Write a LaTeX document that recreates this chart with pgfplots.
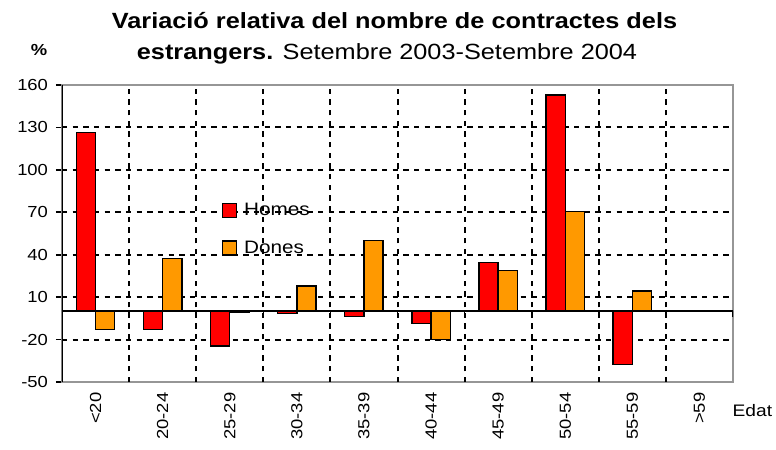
\documentclass[border=0pt]{standalone}
\usepackage{fontspec}
\setmainfont{Liberation Sans}[FakeStretch=1.15]
\usepackage{pgfplots}
\pgfplotsset{compat=1.18}
\definecolor{homes}{RGB}{255,0,0}
\definecolor{dones}{RGB}{255,153,0}
\definecolor{framegray}{RGB}{150,150,150}

\begin{document}
\begin{tikzpicture}
\path[use as bounding box] (0,0) rectangle (582pt,337.5pt);
\begin{axis}[
    at={(46.5pt,51pt)}, anchor=south west,
    scale only axis, width=503.25pt, height=222.75pt,
    xmin=-0.5, xmax=9.5, ymin=-50, ymax=160,
    ybar, bar width=14.4pt,
    axis line style={framegray, line width=1.5pt},
    tick align=outside, ytick pos=left, major tick length=4.5pt,
    xtick={0,...,9},
    xticklabels={<20,20-24,25-29,30-34,35-39,40-44,45-49,50-54,55-59,>59},
    xtick style={draw=none},
    xticklabel style={rotate=90, anchor=east, font=\fontsize{12}{14}\selectfont},
    extra x ticks={0.5,1.5,...,8.5},
    extra x tick labels={},
    extra x tick style={grid=major, tick style={draw=none}},
    ytick={-50,-20,10,40,70,100,130,160},
    yticklabels={-50,-20,10,40,70,100,130,160},
    ytick style={black, line width=1.2pt},
    yticklabel style={font=\fontsize{12}{14}\selectfont, xshift=-2.5pt},
    extra y ticks={-20,10,40,70,100,130},
    extra y tick labels={},
    extra y tick style={grid=major, tick style={draw=none}},
    major grid style={black, line width=1.5pt, dash pattern=on 4pt off 4pt},
    legend style={draw=none, fill=none, at={(0.238,0.612)}, anchor=north west,
        font=\fontsize{13.5}{16}\selectfont, row sep=13.5pt, inner sep=0pt,
        /tikz/every odd column/.style={column sep=3pt}},
    legend cell align=left,
    legend image code/.code={\draw[#1] (0pt,-5.25pt) rectangle (10.5pt,5.25pt);},
]
\addplot[fill=homes, draw=black, line width=1.1pt, bar shift=-7.2pt]
    coordinates {(0,126.5) (1,-13) (2,-24.5) (3,-1.5) (4,-3.5) (5,-8.5) (6,34.5) (7,153) (8,-37.5)};
\addlegendentry{Homes}
\addplot[fill=dones, draw=black, line width=1.1pt, bar shift=7.2pt]
    coordinates {(0,-13) (1,37.5) (2,-0.5) (3,18) (4,50) (5,-20) (6,29) (7,70.5) (8,14.5)};
\addlegendentry{Dones}
% zero line with small ticks between categories
\draw[black, line width=1.5pt] (axis cs:-0.5,0) -- (axis cs:9.5,0);
\pgfplotsinvokeforeach{0.5,1.5,...,9.5}{
    \draw[black, line width=1.2pt] (axis cs:#1,0) -- ([yshift=-4pt]axis cs:#1,0);
}
\draw[black, line width=1.5pt] (rel axis cs:0,0) -- (rel axis cs:0,1);
\end{axis}
\node[anchor=base, font=\fontsize{16.5}{19}\selectfont\bfseries] at (295.9pt,315.75pt)
    {Variació relativa del nombre de contractes dels};
\node[anchor=base, font=\fontsize{16.5}{19}\selectfont] at (290.25pt,292.5pt)
    {\textbf{estrangers.} Setembre 2003-Setembre 2004};
\node[anchor=base, font=\fontsize{12}{14}\selectfont\bfseries] at (29.25pt,295.5pt) {\%};
\node[anchor=base west, font=\fontsize{12.5}{15}\selectfont] at (546pt,25pt) {Edat};
\end{tikzpicture}
\end{document}
